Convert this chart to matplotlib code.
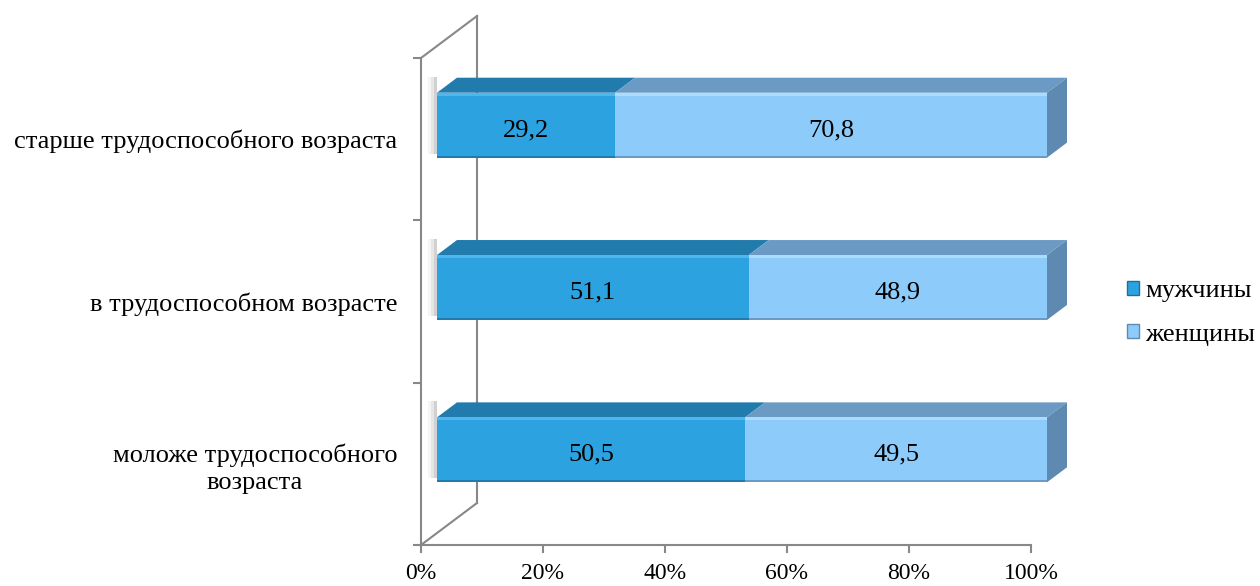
import matplotlib
matplotlib.use("Agg")
import matplotlib.pyplot as plt
from matplotlib.patches import Rectangle, Polygon, Patch

plt.rcParams['font.family'] = ['Liberation Serif', 'DejaVu Serif']

# Data
categories = ["моложе трудоспособного\nвозраста", "в трудоспособном возрасте",
              "старше трудоспособного возраста"]
men = [50.5, 51.1, 29.2]
women = [49.5, 48.9, 70.8]
series_names = ["мужчины", "женщины"]
xticks = [0, 20, 40, 60, 80, 100]

# colours: front, top, side, highlight
men_col = ("#2ca2e0", "#217bad", "#1d6f9e", "#4fb6ee")
women_col = ("#8dcbfb", "#6b9bc4", "#5e89b0", "#a9dcff")
axis_col = "#888888"
FS = 19
FS_TICK = 17

fig = plt.figure(figsize=(12.6, 5.86), dpi=100)
W, H = 1260, 586
ax_l, ax_r, ax_t, ax_b = 421, 1031, 58, 545
ax = fig.add_axes([ax_l / W, (H - ax_b) / H, (ax_r - ax_l) / W, (ax_b - ax_t) / H])
ax.set_xlim(0, 100)
ax.set_ylim(-0.5, 2.5)

# pixel -> data conversions for the fake 3d offsets
px_x = (ax_r - ax_l) / 100.0
px_y = (ax_b - ax_t) / 3.0
fx, fy = 16 / px_x, 14 / px_y      # front face shift
dx, dy = 20 / px_x, 15 / px_y      # bar depth
wx, wy = 56 / px_x, 42 / px_y      # back wall
bh = 0.4

# spines / ticks
for s in ["top", "right"]:
    ax.spines[s].set_visible(False)
for s in ["left", "bottom"]:
    ax.spines[s].set_color(axis_col)
    ax.spines[s].set_linewidth(1.5)
ax.set_xticks(xticks)
ax.set_xticklabels([f"{t}%" for t in xticks], fontsize=FS_TICK)
ax.tick_params(axis="x", length=6, width=1.5, color=axis_col, pad=7)
ax.set_yticks(range(len(categories)))
ax.set_yticklabels(categories, fontsize=FS)
ax.tick_params(axis="y", which="major", length=0, pad=17)
for lab in ax.get_yticklabels():
    lab.set_multialignment("center")
    lab.set_linespacing(1.3)
ax.set_yticks([-0.5, 0.5, 1.5, 2.5], minor=True)
ax.tick_params(axis="y", which="minor", length=6, width=1.5, color=axis_col)

# back wall
ax.plot([0, wx], [2.5, 2.5 + wy], color=axis_col, lw=1.5, clip_on=False, zorder=1)
ax.plot([0, wx], [-0.5, -0.5 + wy], color=axis_col, lw=1.5, clip_on=False, zorder=1)
ax.plot([wx, wx], [-0.5 + wy, 2.5 + wy], color=axis_col, lw=1.5, clip_on=False, zorder=1)


def draw_segment(i, left, width, cols, last):
    front, top, side, hi = cols
    x0 = left + fx
    x1 = left + width + fx
    y0 = i - bh / 2 + fy
    y1 = i + bh / 2 + fy
    ax.add_patch(Polygon([(x0, y1), (x1, y1), (x1 + dx, y1 + dy), (x0 + dx, y1 + dy)],
                         closed=True, fc=top, ec="none", clip_on=False, zorder=3))
    if last:
        ax.add_patch(Polygon([(x1, y0), (x1 + dx, y0 + dy), (x1 + dx, y1 + dy), (x1, y1)],
                             closed=True, fc=side, ec="none", clip_on=False, zorder=3))
    ax.add_patch(Rectangle((x0, y0), width, bh, fc=front, ec="none", clip_on=False, zorder=4))
    ax.add_patch(Rectangle((x0, y1 - 3 / px_y), width, 3 / px_y, fc=hi, ec="none",
                           clip_on=False, zorder=4))
    ax.add_patch(Rectangle((x0, y0), width, 2 / px_y, fc=top, ec="none",
                           clip_on=False, zorder=4))


# soft shadow left of each bar
for i in range(len(categories)):
    for k, a in enumerate([0.04, 0.06, 0.09]):
        off = (3 - k) * 3 / px_x
        ax.add_patch(Rectangle((fx - off, i - bh / 2 + fy + 4 / px_y), off, bh + dy * 0.8,
                               fc="black", alpha=a, ec="none", clip_on=False, zorder=2))

for i in range(len(categories)):
    draw_segment(i, 0, men[i], men_col, False)
    draw_segment(i, men[i], women[i], women_col, True)
    ty = i + fy - 5 / px_y
    ax.text(men[i] / 2 + fx, ty, f"{men[i]:.1f}".replace(".", ","),
            ha="center", va="center", fontsize=FS, zorder=5)
    ax.text(men[i] + women[i] / 2 + fx, ty, f"{women[i]:.1f}".replace(".", ","),
            ha="center", va="center", fontsize=FS, zorder=5)

# legend
handles = [Patch(fc=men_col[0], ec=men_col[2], lw=1),
           Patch(fc=women_col[0], ec=women_col[2], lw=1)]
fig.legend(handles, series_names, loc="center left", frameon=False, fontsize=FS,
           bbox_to_anchor=(1127 / W, (H - 313) / H), handlelength=0.45, handleheight=0.45,
           handletextpad=0.25, labelspacing=0.8, borderpad=0, borderaxespad=0)

fig.savefig("out.png", dpi=100)
